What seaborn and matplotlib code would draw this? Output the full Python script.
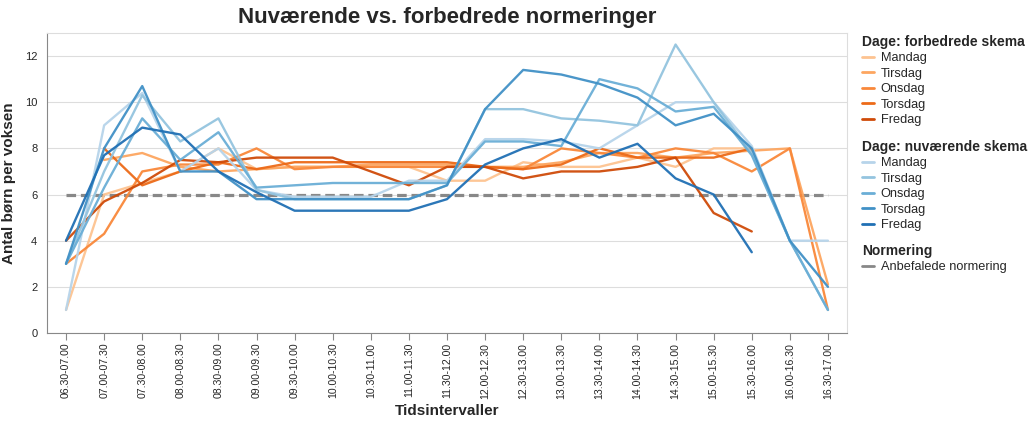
import numpy as np
import pandas as pd
import matplotlib
matplotlib.use('Agg')
import matplotlib.pyplot as plt
from matplotlib.lines import Line2D
import seaborn as sns

# Tidsintervaller
intervaller = ['06.30-07.00', '07.00-07.30', '07.30-08.00', '08.00-08.30', '08.30-09.00',
               '09.00-09.30', '09.30-10.00', '10.00-10.30', '10.30-11.00', '11.00-11.30',
               '11.30-12.00', '12.00-12.30', '12.30-13.00', '13.00-13.30', '13.30-14.00',
               '14.00-14.30', '14.30-15.00', '15.00-15.30', '15.30-16.00', '16.00-16.30',
               '16.30-17.00']
dage = ['Mandag', 'Tirsdag', 'Onsdag', 'Torsdag', 'Fredag']
nan = np.nan

# Forbedrede skema
forb_mandag = [1.0, 6.0, 6.5, 7.0, 8.0, 7.1, 7.2, 7.2, 7.2, 7.2, 6.6, 6.6, 7.4, 7.2, 7.2, 7.6, 7.2, 8.0, 8.0, nan, nan]
forb_tirsdag = [nan, 7.5, 7.8, 7.2, 7.0, 7.1, 7.2, 7.2, 7.3, 7.3, 7.3, 7.2, 7.2, 7.4, 7.8, 7.8, 7.6, 7.8, 7.9, 8.0, 2.1]
forb_onsdag = [3.0, 4.3, 7.0, 7.3, 7.3, 8.0, 7.1, 7.2, 7.2, 7.2, 7.2, 7.2, 7.1, 8.0, 7.8, 7.6, 8.0, 7.8, 7.0, 8.0, 1.0]
forb_torsdag = [nan, 8.0, 6.4, 7.0, 7.4, 7.1, 7.4, 7.4, 7.4, 7.4, 7.4, 7.2, 7.1, 7.3, 8.0, 7.6, 7.6, 7.6, 8.0, nan, nan]
forb_fredag = [4.0, 5.7, 6.5, 7.5, 7.4, 7.6, 7.6, 7.6, 7.0, 6.4, 7.2, 7.2, 6.7, 7.0, 7.0, 7.2, 7.6, 5.2, 4.4, nan, nan]

# Nuværende skema
nuv_mandag = [1.0, 9.0, 10.4, 7.0, 8.0, 6.2, 5.9, 5.9, 5.9, 6.6, 6.6, 8.4, 8.4, 8.3, 8.0, 9.0, 10.0, 10.0, 8.1, 4.0, 4.0]
nuv_tirsdag = [3.0, 7.0, 10.3, 8.3, 9.3, 6.2, 5.8, 5.8, 5.8, 5.8, 6.4, 9.7, 9.7, 9.3, 9.2, 9.0, 12.5, 10.0, 7.8, 4.0, 1.0]
nuv_onsdag = [3.0, 6.3, 9.3, 7.5, 8.7, 6.3, 6.4, 6.5, 6.5, 6.5, 6.5, 8.3, 8.3, 8.1, 11.0, 10.6, 9.6, 9.8, 7.7, 4.0, 1.0]
nuv_torsdag = [3.0, 8.0, 10.7, 7.0, 7.0, 5.8, 5.8, 5.8, 5.8, 5.8, 6.4, 9.7, 11.4, 11.2, 10.8, 10.2, 9.0, 9.5, 8.0, 4.0, 2.0]
nuv_fredag = [4.0, 7.7, 8.9, 8.6, 7.0, 6.1, 5.3, 5.3, 5.3, 5.3, 5.8, 7.3, 8.0, 8.4, 7.6, 8.2, 6.7, 6.0, 3.5, nan, nan]

anbefalet_normering = 6

farver_forb = ['#fdc391', '#fda660', '#f9883a', '#ec6a18', '#cf4b09']
farver_nuv = ['#b7d4ea', '#94c4df', '#6aaed6', '#4191c6', '#2070b4']

# Lang tabel
rows = []
pos = np.arange(len(intervaller))
for skema, serier in [('forb', [forb_mandag, forb_tirsdag, forb_onsdag, forb_torsdag, forb_fredag]),
                      ('nuv', [nuv_mandag, nuv_tirsdag, nuv_onsdag, nuv_torsdag, nuv_fredag])]:
    for dag, vals in zip(dage, serier):
        for p, v in zip(pos, vals):
            rows.append({'pos': p, 'vaerdi': v, 'serie': f'{skema}_{dag}'})
df = pd.DataFrame(rows).dropna()

palette = {f'forb_{d}': c for d, c in zip(dage, farver_forb)}
palette.update({f'nuv_{d}': c for d, c in zip(dage, farver_nuv)})

sns.set_theme(style='white')
plt.rcParams['font.family'] = ['Liberation Sans', 'DejaVu Sans']

fig = plt.figure(figsize=(10.35, 4.3), dpi=100)
ax = fig.add_axes([47 / 1035, 1 - 333 / 430, 800 / 1035, 300 / 430])

# Anbefalet normering
sns.lineplot(x=pos, y=[anbefalet_normering] * len(pos), ax=ax, color='#888888',
             linewidth=2.3, dashes=False, zorder=1)
ax.lines[-1].set_dashes((3.0, 1.5))

sns.lineplot(data=df, x='pos', y='vaerdi', hue='serie', palette=palette,
             hue_order=list(palette.keys()), ax=ax, linewidth=1.7, legend=False,
             alpha=0.95, zorder=2)

ax.set_xlim(-0.5, len(intervaller) - 0.5)
ax.set_ylim(0, 13)
ax.set_yticks(range(0, 13, 2))
ax.set_xticks(pos)
ax.set_xticklabels(intervaller, rotation=90, fontsize=7.6)
ax.tick_params(axis='y', labelsize=8, length=5, color='#888888', width=0.8, pad=2)
ax.tick_params(axis='x', length=5, color='#888888', width=0.8, pad=2, bottom=True)
ax.grid(axis='y', color='#dddddd', linewidth=0.8)
ax.set_axisbelow(True)
for side in ['top', 'right']:
    ax.spines[side].set_color('#dddddd')
    ax.spines[side].set_linewidth(0.8)
for side in ['left', 'bottom']:
    ax.spines[side].set_color('#888888')
    ax.spines[side].set_linewidth(0.8)

ax.set_xlabel('Tidsintervaller', fontsize=11, fontweight='bold', labelpad=4)
ax.set_ylabel('Antal børn per voksen', fontsize=11, fontweight='bold', labelpad=6)
ax.set_title('Nuværende vs. forbedrede normeringer', fontsize=16, fontweight='bold', pad=7)

# Legender
def lav_legende(titel, labels, farver, y_top):
    handles = [Line2D([0], [0], color=c, lw=2) for c in farver]
    leg = fig.legend(handles, labels, title=titel, loc='upper left',
                     bbox_to_anchor=(862 / 1035, 1 - y_top / 430), frameon=False,
                     fontsize=9.2, title_fontproperties={'weight': 'bold', 'size': 10},
                     handlelength=0.9, handletextpad=0.55, labelspacing=0.27,
                     borderpad=0, borderaxespad=0, alignment='left')
    return leg

lav_legende('Dage: forbedrede skema', dage, farver_forb, 35)
lav_legende('Dage: nuværende skema', dage, farver_nuv, 140)
lav_legende('Normering', ['Anbefalede normering'], ['#888888'], 244)

fig.savefig('out.png', dpi=100)
